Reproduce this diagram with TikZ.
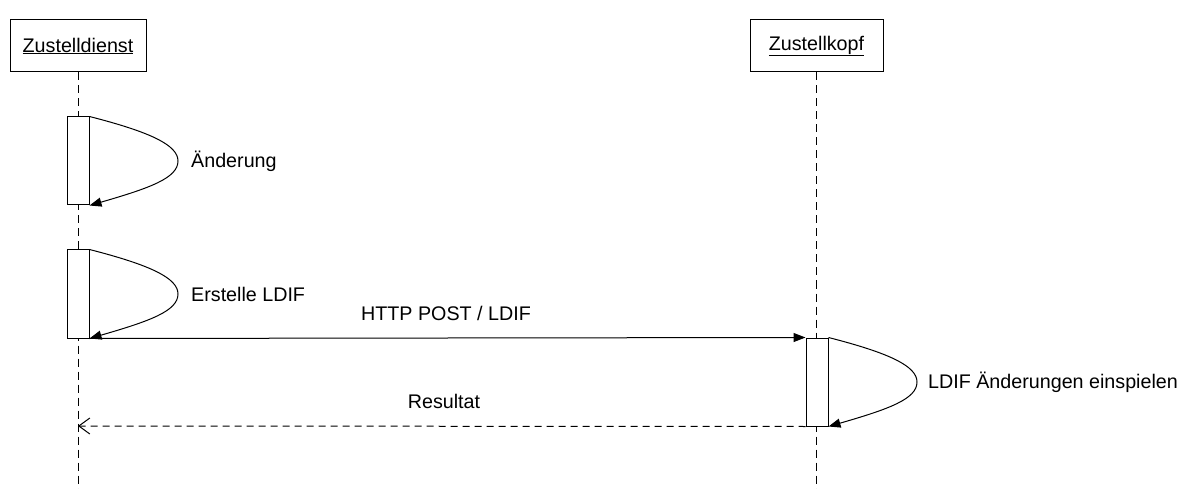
\documentclass[tikz,border=0pt]{standalone}
\usepackage{fontspec}
\setmainfont{Liberation Sans}
\usetikzlibrary{arrows.meta,backgrounds}
\begin{document}
\begin{tikzpicture}[x=1pt,y=-1pt,
  font=\fontsize{19.7}{23}\selectfont,
  every node/.style={inner sep=0pt},
  participant/.style={draw,fill=white,line width=1pt,minimum height=52pt},
  activation/.style={draw,fill=white,line width=1pt,minimum width=22pt,minimum height=88pt},
  lifeline/.style={line width=1pt,dash pattern=on 8pt off 5pt},
  syncmsg/.style={line width=1pt,-{Triangle[length=12pt,width=9pt]}},
  replymsg/.style={line width=1pt,dash pattern=on 7pt off 5pt,-{Straight Barb[length=11pt,width=16pt]}},
  msglabel/.style={anchor=west}]
\useasboundingbox (0,0) rectangle (1181,489);

% participants
\node[participant,minimum width=136pt] (dienst) at (78,46) {\underline{Zustelldienst}};
\node[participant,minimum width=133pt] (kopf) at (816.5,46) {\underline{Zustellkopf}};
\coordinate (dienstEnd) at (78,489);
\coordinate (kopfEnd) at (816.5,489);

% activations
\node[activation] (act1) at (78,161) {};
\node[activation] (act2) at (78,294) {};
\node[activation] (act3) at (817,382) {};
\coordinate (replyEnd) at (78,426);

% lifelines behind everything
\begin{pgfonlayer}{background}
  \draw[lifeline] (dienst.south) -- (dienstEnd);
  \draw[lifeline] (kopf.south) -- (kopfEnd);
\end{pgfonlayer}

% self messages
\draw[syncmsg] (act1.north east) .. controls (150,132) and (178,145) .. (178,161)
  .. controls (178,178) and (150,188) .. (act1.south east);
\node[msglabel] (l1) at (191,161) {Änderung};

\draw[syncmsg] (act2.north east) .. controls (150,265) and (178,278) .. (178,294)
  .. controls (178,311) and (150,321) .. (act2.south east);
\node[msglabel] (l2) at (191,294) {Erstelle LDIF};

\draw[syncmsg] (act3.north east) .. controls (889,353) and (917,366) .. (917,382)
  .. controls (917,399) and (889,409) .. (act3.south east);
\node[msglabel] (l3) at (928,382) {LDIF Änderungen einspielen};

% calls between participants
\draw[syncmsg] (act2.south east) -- (act3.north west);
\node (l4) at (446,313) {HTTP POST / LDIF};

\draw[replymsg] (act3.south west) -- (replyEnd);
\node (l5) at (444,401) {Resultat};
\end{tikzpicture}
\end{document}
